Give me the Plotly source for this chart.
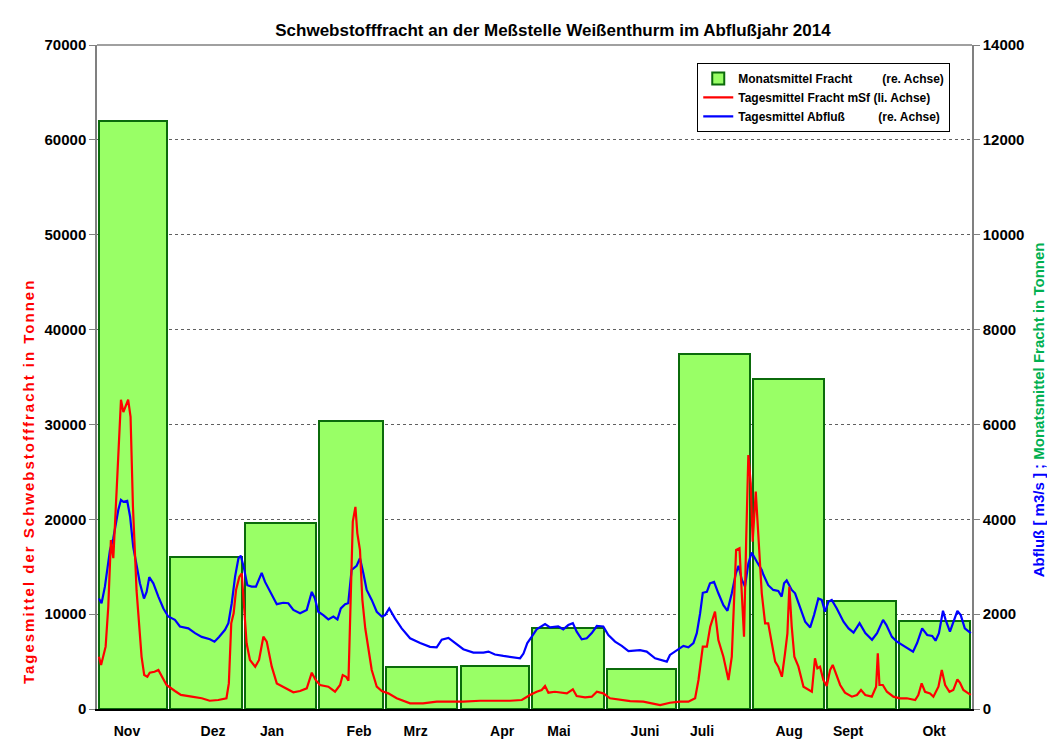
import numpy as np
import plotly.graph_objects as go

# Monate im Abflussjahr (Nov 2013 - Okt 2014)
monate = ["Nov", "Dez", "Jan", "Feb", "Mrz", "Apr", "Mai", "Juni", "Juli", "Aug", "Sept", "Okt"]
monat_tage = [30, 31, 31, 28, 31, 30, 31, 30, 31, 31, 30, 31]
# Position der Monatsbeschriftung (Tag im Abflussjahr)
monat_label_tag = [12.5, 48.4, 73, 109.3, 132.9, 169, 192.7, 228.6, 252.4, 288.7, 313.3, 349.2]

# Monatsmittel Fracht (re. Achse)
monat_fracht = [12400, 3200, 3920, 6070, 890, 900, 1710, 840, 7480, 6960, 2280, 1860]

# Tagesmittel Fracht mSf (li. Achse) - Tag seit 1. Nov 2013
fracht_tag = [0.8, 1.7, 3.6, 4.7, 5.8, 6.8, 8.2, 10, 11, 13, 14, 15, 16.5, 18.6, 19.7, 21, 22, 24, 25.6, 27,
              29, 32.5, 35, 39.5, 43.7, 47, 50.6, 54, 55, 56, 57, 58, 59.4, 60.4, 61.5, 62.4, 63.8, 66, 67.6, 69.4,
              70.8, 72.9, 75, 78.4, 81.9, 84.7, 87.5, 89.6, 91.2, 93, 96.5, 99.3, 101.4, 102.5, 103.9, 104.9, 105.8,
              106.7, 107.8, 108.6, 109.7, 110.7, 111.9, 113.2, 114.6, 116.7, 118.8, 121.5, 125, 130.6, 136, 141.7,
              147.3, 152.8, 159.8, 166.7, 172.3, 177.2, 180.6, 183.4, 185.5, 186.9, 188.3, 191, 194.5, 196, 198.5,
              200.1, 203.6, 206.4, 208.5, 211.2, 214, 218.2, 222.4, 227.9, 234.9, 239, 243.2, 246.7, 249.5, 250.9,
              252.7, 254.4, 255.8, 257.8, 259.2, 261.3, 263.4, 264.8, 266.6, 268, 269, 269.9, 270.8, 271.7, 272.7,
              273.5, 274.8, 275.9, 277.3, 278.7, 280, 281.5, 282.9, 284.2, 285.7, 287, 288, 288.8, 289.8, 290.9,
              292.6, 294.7, 296.7, 298.2, 299.5, 300.5, 301.6, 303, 304.4, 305.8, 306.9, 308.3, 310, 312, 314.9,
              317, 318.7, 320.5, 323.2, 325, 325.7, 326.4, 327.8, 329.5, 332.2, 335, 337.8, 341.3, 342.6, 344,
              345.4, 347.5, 348.9, 351, 352.4, 353.8, 355.6, 357.2, 358.9, 360, 361.4, 363.5, 364.5]
fracht_wert = [5500, 4640, 6570, 10780, 17800, 15900, 23100, 32600, 31300, 32600, 30800, 21300, 12500, 5500, 3580,
               3400, 3830, 3930, 4110, 3480, 2530, 1900, 1480, 1300, 1130, 870, 950, 1130, 2700, 9030, 10090, 12540,
               13950, 14300, 10440, 6930, 5170, 4460, 5170, 7620, 7100, 4460, 2700, 2250, 1760, 1900, 2180, 3830,
               3060, 2530, 2350, 1820, 2530, 3580, 3400, 2980, 10780, 19750, 21300, 18520, 16760, 11490, 8510, 6570,
               4110, 2350, 1900, 1650, 1130, 600, 600, 770, 770, 770, 870, 870, 870, 950, 1480, 1820, 2000, 2420,
               1720, 1820, 1650, 1650, 2080, 1370, 1230, 1300, 1820, 1650, 1130, 950, 840, 770, 420, 660, 770, 770,
               1130, 3060, 6570, 6570, 8680, 10260, 7270, 5510, 3060, 5510, 16760, 16940, 12540, 7620, 17800, 26780,
               23790, 17640, 22910, 18520, 12200, 9030, 9030, 6930, 4990, 4460, 3400, 5870, 7980, 12890, 8680, 5510,
               4460, 2350, 2000, 1820, 5340, 4290, 4460, 3060, 2420, 4110, 4640, 3760, 2530, 1720, 1300, 1480, 2000,
               1480, 1300, 2350, 5870, 2530, 2530, 1820, 1300, 1130, 1130, 950, 1480, 2700, 1820, 1650, 1300, 2350,
               4110, 2530, 1820, 2000, 3130, 2770, 2000, 1650, 1480]

# Tagesmittel Abfluss (re. Achse)
abfluss_tag = [0.8, 1.9, 3.3, 5.4, 6.8, 8.9, 10, 11, 12.6, 13.8, 15.1, 16.5, 17.9, 19.6, 20.7, 21.8, 23.5, 25.6,
               27.7, 29.7, 32.5, 34.6, 38.1, 40.9, 43.7, 47.1, 49, 50.9, 53.4, 54.8, 56.2, 57.6, 59, 60, 61.3, 62.7,
               64.5, 66.3, 68.7, 70.1, 72.2, 75, 77.7, 79.8, 81.9, 84.7, 87.5, 89.6, 90.9, 92.3, 94.4, 96.5, 98.6,
               100.3, 101.7, 103.5, 104.8, 106.2, 108.3, 109.7, 111.1, 112.5, 114.6, 116.7, 118.8, 120.2, 121.9,
               124.3, 127.1, 130.6, 134.8, 138.9, 141.7, 143.8, 146.6, 149.4, 152.8, 157, 161.2, 163.3, 166, 169.5,
               173, 176.5, 177.9, 179.5, 181.3, 183.4, 186.9, 189, 192.4, 194.5, 196.6, 198.5, 200.1, 202.2, 204.3,
               206.4, 208.5, 211.2, 213.3, 216.1, 218.9, 221.7, 226.5, 229.3, 232.8, 235.6, 237.7, 239, 241.8, 244.6,
               246.7, 248.8, 250.2, 251.6, 252.7, 254.4, 255.7, 257.4, 259.2, 261.3, 263, 264.8, 266.5, 267.6, 269,
               270.3, 271.7, 273.1, 275.2, 277.3, 278, 280, 282.1, 284.2, 285.6, 286.6, 287.7, 289.8, 291.2, 293.3,
               295.4, 297.5, 299.1, 300.9, 302.3, 303.7, 305.1, 306.5, 308.6, 311.4, 313.5, 315.6, 318.1, 320.5,
               323.3, 325.4, 327.9, 329.3, 331.6, 333.7, 336.5, 338.6, 340.4, 342.1, 344.2, 346.3, 348.4, 349.8,
               351.2, 352.9, 354, 355.8, 357.5, 358.9, 360.3, 362, 364.5]
abfluss_wert = [2330, 2230, 2580, 3350, 3600, 4200, 4410, 4370, 4390, 4060, 3420, 3000, 2650, 2330, 2470, 2780,
                2650, 2370, 2120, 1950, 1880, 1740, 1700, 1600, 1520, 1470, 1420, 1520, 1670, 1810, 2230, 2790, 3180,
                3230, 2970, 2610, 2580, 2580, 2870, 2680, 2470, 2210, 2240, 2230, 2090, 2020, 2090, 2470, 2330, 2050,
                1980, 1890, 1950, 1890, 2120, 2210, 2230, 2930, 3020, 3180, 2860, 2510, 2300, 2050, 1950, 1980, 2120,
                1910, 1700, 1490, 1390, 1310, 1300, 1460, 1500, 1400, 1260, 1190, 1190, 1210, 1150, 1120, 1100, 1070,
                1170, 1390, 1520, 1680, 1790, 1720, 1740, 1680, 1770, 1810, 1630, 1470, 1490, 1600, 1750, 1740, 1560,
                1420, 1330, 1220, 1240, 1210, 1070, 1030, 1000, 1140, 1240, 1330, 1300, 1390, 1600, 2020, 2450, 2470,
                2650, 2680, 2440, 2190, 2070, 2440, 2860, 3020, 2720, 2580, 3070, 3300, 3110, 2930, 2830, 2610, 2510,
                2490, 2370, 2650, 2710, 2510, 2440, 2160, 1840, 1720, 1980, 2330, 2300, 2050, 2260, 2300, 2120, 1840,
                1700, 1610, 1810, 1600, 1460, 1600, 1880, 1770, 1520, 1420, 1330, 1280, 1210, 1390, 1700, 1560, 1540,
                1440, 1600, 2070, 1880, 1630, 1880, 2070, 1980, 1700, 1600]

monat_start = np.concatenate([[0], np.cumsum(monat_tage)[:-1]])
monat_mitte = monat_start + np.array(monat_tage) / 2
balken_breite = np.array(monat_tage) - 1.3

FONT = "Liberation Sans, Arial, sans-serif"
nb = "\u00a0"

fig = go.Figure()
fig.add_trace(go.Bar(x=monat_mitte, y=monat_fracht, width=balken_breite,
                     name="<b>Monatsmittel Fracht" + nb * 9 + "(re. Achse)</b>",
                     marker=dict(color="#99ff66", line=dict(color="#0b6b0b", width=2)),
                     yaxis="y", legendrank=1))
fig.add_trace(go.Scatter(x=abfluss_tag, y=abfluss_wert, mode="lines",
                         name="<b>Tagesmittel Abfluß" + nb * 10 + "(re. Achse)</b>",
                         line=dict(color="#0000ff", width=2.2), yaxis="y", legendrank=3))
fig.add_trace(go.Scatter(x=fracht_tag, y=fracht_wert, mode="lines",
                         name="<b>Tagesmittel Fracht mSf (li. Achse)</b>",
                         line=dict(color="#ff0000", width=2.2), yaxis="y2", legendrank=2))

fig.update_layout(
    width=1047, height=745,
    margin=dict(l=89, r=83, t=37, b=44),
    paper_bgcolor="white", plot_bgcolor="white",
    font=dict(family=FONT, size=13, color="black"),
    title=dict(text="<b>Schwebstofffracht an der Meßstelle Weißenthurm im Abflußjahr 2014</b>",
               x=0.5205, xanchor="center", y=0.971, yanchor="middle",
               font=dict(family=FONT, size=17, color="black")),
    showlegend=True,
    legend=dict(x=0.686, y=0.973, xanchor="left", yanchor="top",
                bgcolor="white", bordercolor="black", borderwidth=1,
                font=dict(family=FONT, size=12, color="black"),
                tracegroupgap=0, itemwidth=30),
    bargap=0,
    xaxis=dict(range=[0, 365], tickmode="array", tickvals=monat_label_tag,
               ticktext=["<b>%s</b>" % m for m in monate], ticks="", ticklabelstandoff=8,
               showgrid=False, showline=True, linecolor="black", linewidth=1.5,
               zeroline=False, tickfont=dict(size=14)),
    yaxis=dict(side="right", range=[0, 14000], tickmode="linear", tick0=0, dtick=2000,
               tickformat="d", ticks="outside", ticklen=6, tickcolor="#808080",
               showline=True, linecolor="#808080", linewidth=1.5,
               showgrid=True, gridcolor="#606060", griddash="dot", gridwidth=1,
               zeroline=False, tickfont=dict(size=15), tickprefix="<b>", ticksuffix="</b>"),
    yaxis2=dict(side="left", overlaying="y", range=[0, 70000], tickmode="linear", tick0=0, dtick=10000,
                tickformat="d", ticks="outside", ticklen=6, tickcolor="#808080",
                showline=True, linecolor="#808080", linewidth=1.5,
                showgrid=False, zeroline=False, tickfont=dict(size=15),
                tickprefix="<b>", ticksuffix="</b>"),
)

# obere Begrenzung der Zeichenfläche
fig.add_shape(type="line", xref="paper", yref="paper", x0=0, x1=1, y0=1, y1=1,
              line=dict(color="#808080", width=1.5))

fig.add_annotation(text="<b><span style='letter-spacing:2px'>Tagesmittel der Schwebstofffracht in Tonnen</span></b>",
                   xref="paper", yref="paper", x=-0.079, y=0.343, textangle=-90,
                   xanchor="center", yanchor="middle",
                   showarrow=False, font=dict(family=FONT, size=15, color="#ff0000"))
fig.add_annotation(text="<b><span style='color:#0000ff'>Abfluß [ m3/s ] ;</span> "
                        "<span style='color:#00b050'>Monatsmittel Fracht in Tonnen</span></b>",
                   xref="paper", yref="paper", x=1.0755, y=0.45, textangle=-90,
                   xanchor="center", yanchor="middle",
                   showarrow=False, font=dict(family=FONT, size=15))

fig.write_html("out.html")
